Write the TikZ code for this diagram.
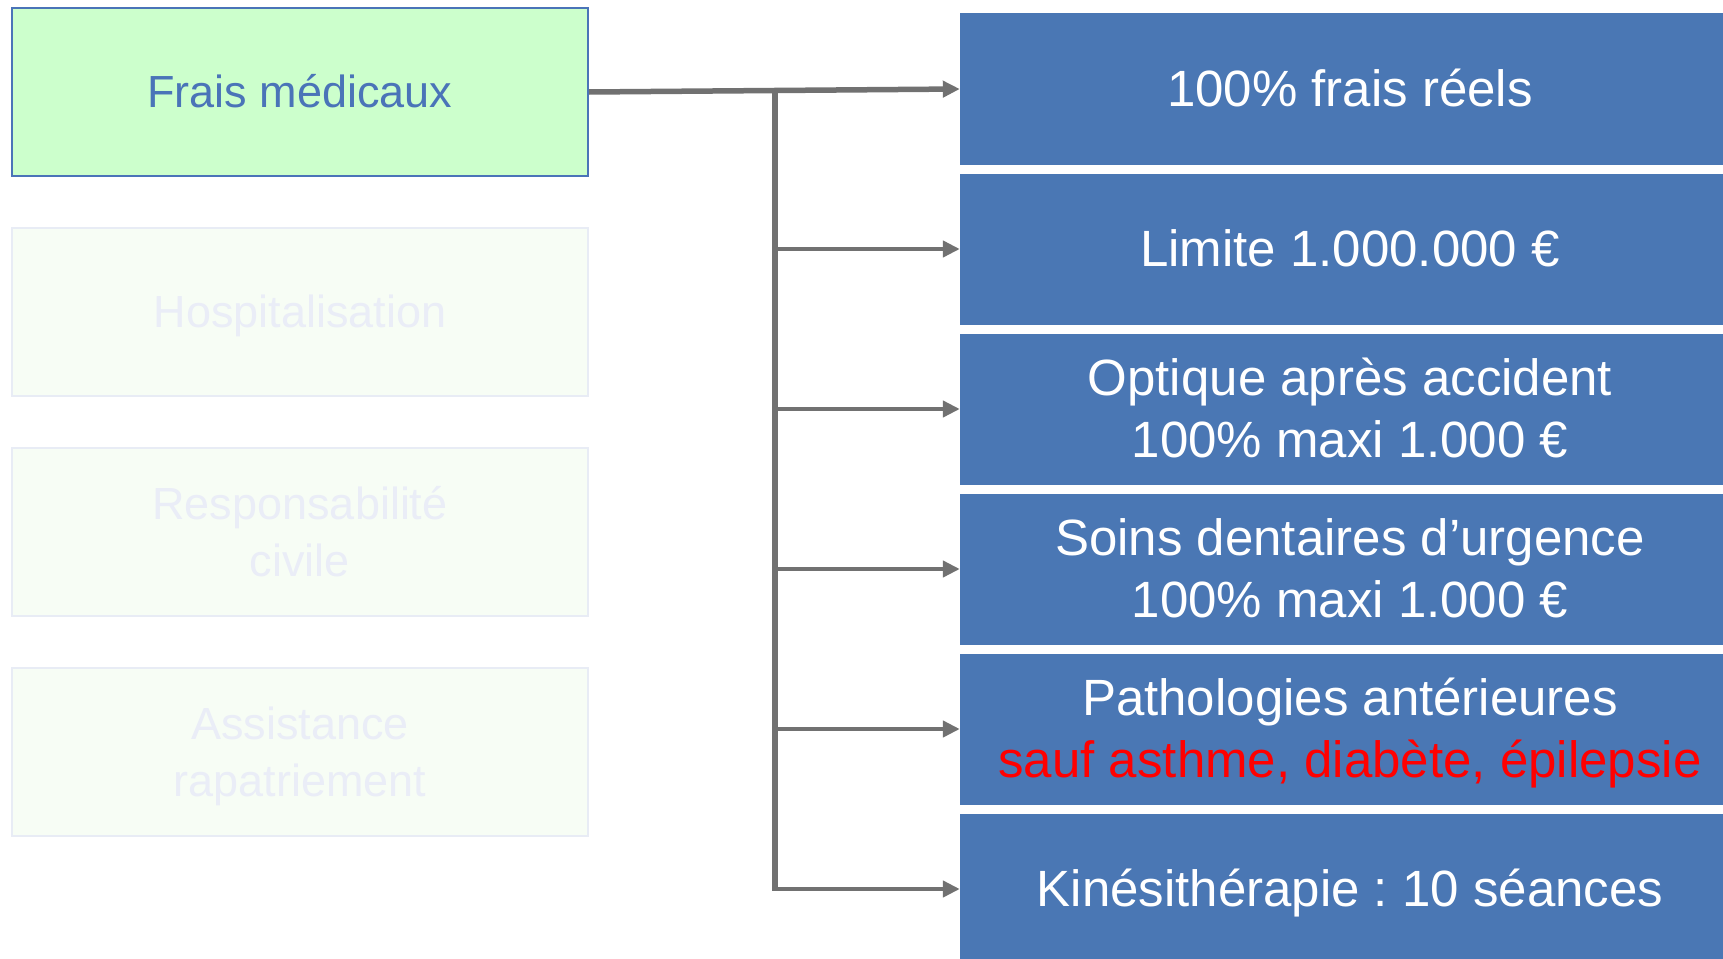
\documentclass[tikz,border=0pt]{standalone}
\usepackage{fontspec}
\setmainfont{Liberation Sans}
\usetikzlibrary{arrows.meta}
\frenchspacing
\definecolor{boxblue}{RGB}{74,119,180}
\definecolor{fraisfill}{RGB}{204,255,204}
\definecolor{fraisline}{RGB}{74,116,184}
\definecolor{fadefill}{RGB}{247,253,245}
\definecolor{fadeline}{RGB}{232,236,245}
\definecolor{fadetext}{RGB}{234,237,247}
\definecolor{linegray}{RGB}{113,113,113}
% strut with the font's ascent and descent, so that lines centre as in the original
\newcommand{\ps}{\rule[-0.212em]{0pt}{1.117em}}
\tikzset{
  leftbox/.style={draw=fadeline, line width=2pt, fill=fadefill, text=fadetext,
    minimum width=576pt, minimum height=168pt, inner sep=0pt, align=center,
    font=\fontsize{45}{57}\selectfont},
  fraisbox/.style={leftbox, draw=fraisline, fill=fraisfill, text=fraisline},
  bluebox/.style={fill=boxblue, text=white, minimum width=780pt, minimum height=151pt,
    inner sep=0pt, align=center, font=\fontsize{51}{61.5}\selectfont},
  conn/.style={draw=linegray, line width=4.5pt},
  arr/.style={conn, -{Triangle[length=17pt,width=16pt]}}
}
\begin{document}
\begin{tikzpicture}[x=1pt,y=-1pt]
\useasboundingbox (0,0) rectangle (1723,958);
\clip (0,0) rectangle (1723,958);
\fill[white] (0,0) rectangle (1723,958);
% left boxes
\node[fraisbox] (frais) at (300,92) {\ps Frais médicaux};
\node[leftbox] (hosp) at (300,312) {\ps Hospitalisation};
\node[leftbox] (resp) at (300,532) {\ps Responsabilité\\\ps civile};
\node[leftbox] (assist) at (300,752) {\ps Assistance\\\ps rapatriement};
% right boxes
\node[bluebox] (b1) at (1350,89) {\ps 100\% frais réels};
\node[bluebox] (b2) at (1350,249) {\ps Limite 1.000.000 €};
\node[bluebox] (b3) at (1350,409) {\ps Optique après accident\\\ps 100\% maxi 1.000 €};
\node[bluebox] (b4) at (1350,569) {\ps Soins dentaires d’urgence\\\ps 100\% maxi 1.000 €};
\node[bluebox] (b5) at (1350,729) {\ps Pathologies antérieures\\\ps\textcolor{red}{sauf asthme, diabète, épilepsie}};
\node[bluebox] (b6) at (1350,889) {\ps Kinésithérapie : 10 séances};
% connectors
\coordinate (top) at (775,91);
\coordinate (bot) at (775,889);
\draw[arr, line width=5.5pt] (frais.east) -- (b1.west);
\draw[conn, line width=5.5pt] (top) -- (bot);
\draw[arr] (b2.west -| top) -- (b2.west);
\draw[arr] (b3.west -| top) -- (b3.west);
\draw[arr] (b4.west -| top) -- (b4.west);
\draw[arr] (b5.west -| top) -- (b5.west);
\draw[arr] ([xshift=-2.75pt]bot) -- (b6.west);
\end{tikzpicture}
\end{document}
